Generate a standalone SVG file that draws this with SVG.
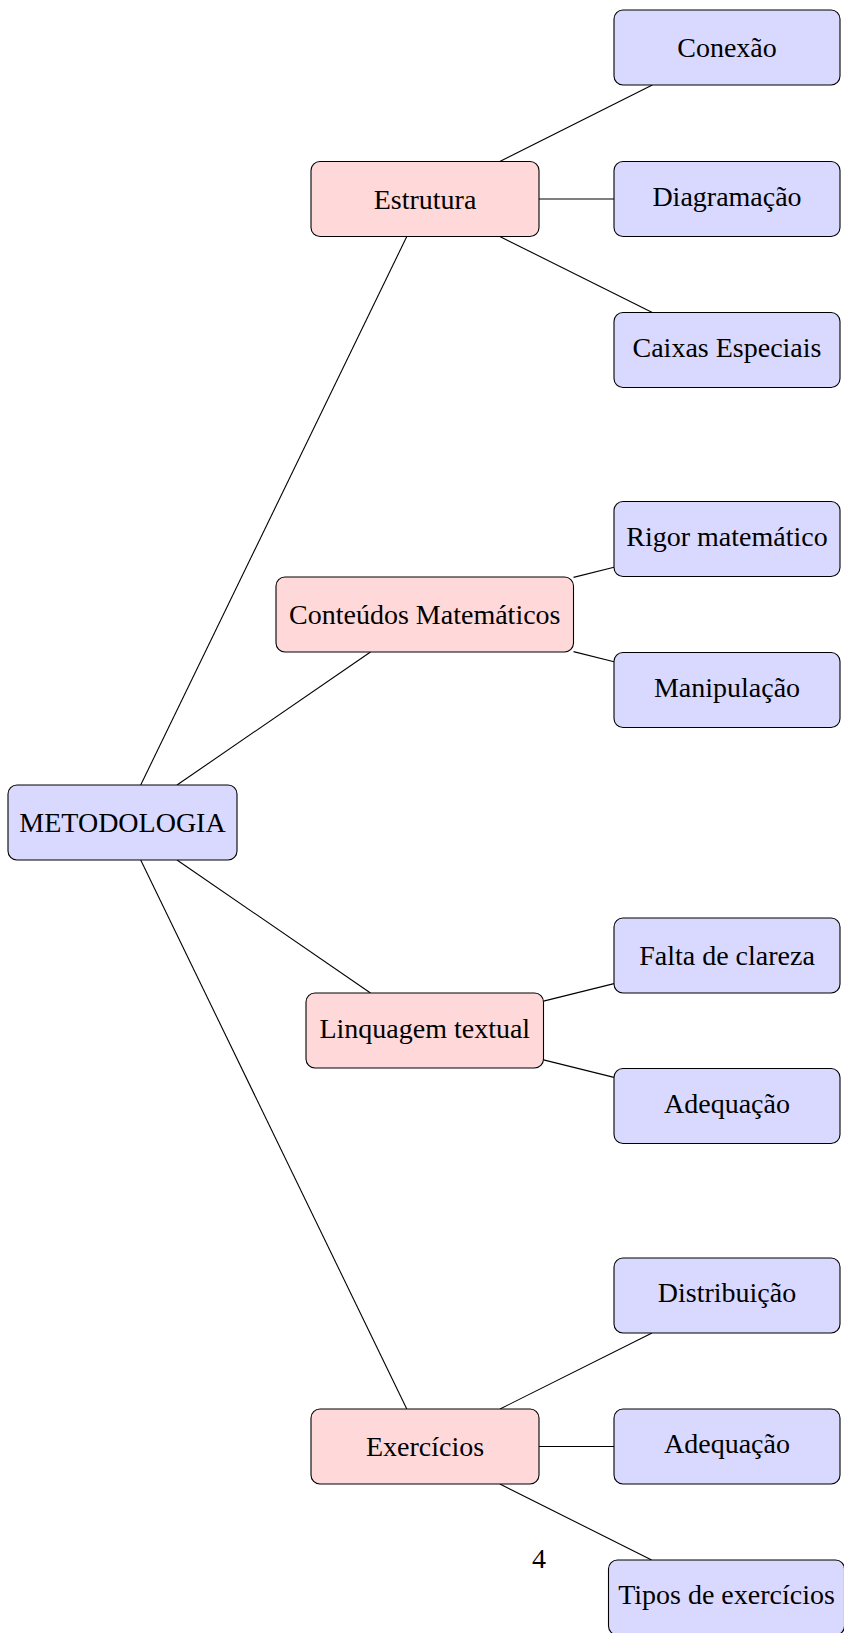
<svg xmlns="http://www.w3.org/2000/svg" width="844" height="1633" viewBox="0 0 844 1633">
<style>
.b{fill:#d9d9ff;stroke:#000;stroke-width:1.1}
.r{fill:#ffd9d9;stroke:#000;stroke-width:1.1}
.t{font-family:"Liberation Serif","Times New Roman",serif;font-size:28px;fill:#000;text-anchor:middle}
.e{stroke:#000;stroke-width:1.1;fill:none}
</style>
<rect width="844" height="1633" fill="#fff"/>
<g id="connectors">
<line class="e" x1="140.7" y1="785" x2="406.8" y2="236.5"/>
<line class="e" x1="177.0" y1="785" x2="370.5" y2="652"/>
<line class="e" x1="177.0" y1="860" x2="370.5" y2="993"/>
<line class="e" x1="140.7" y1="860" x2="406.8" y2="1409"/>
<line class="e" x1="499.8" y1="161.5" x2="652.3" y2="85"/>
<line class="e" x1="539" y1="199" x2="614" y2="199"/>
<line class="e" x1="499.8" y1="236.5" x2="652.3" y2="312.5"/>
<line class="e" x1="573.5" y1="577.4" x2="614" y2="567.3"/>
<line class="e" x1="573.5" y1="651.6" x2="614" y2="661.8"/>
<line class="e" x1="543.5" y1="1001.1" x2="614" y2="983.6"/>
<line class="e" x1="543.5" y1="1059.9" x2="614" y2="1077.4"/>
<line class="e" x1="500" y1="1409" x2="652" y2="1333"/>
<line class="e" x1="539" y1="1446.5" x2="614" y2="1446.5"/>
<line class="e" x1="499.9" y1="1484" x2="651.6" y2="1560"/>
</g>
<g id="metodologia"><rect class="b" x="8" y="785" width="229" height="75" rx="9"/><text class="t" x="122.5" y="832">METODOLOGIA</text></g>
<g id="estrutura"><rect class="r" x="311" y="161.5" width="228" height="75" rx="9"/><text class="t" x="425" y="208.5">Estrutura</text></g>
<g id="conteudos"><rect class="r" x="276" y="577" width="297.5" height="75" rx="9"/><text class="t" x="424.8" y="624">Conteúdos Matemáticos</text></g>
<g id="linquagem"><rect class="r" x="306" y="993" width="237.5" height="75" rx="9"/><text class="t" x="424.8" y="1037.5">Linquagem textual</text></g>
<g id="exercicios"><rect class="r" x="311" y="1409" width="228" height="75" rx="9"/><text class="t" x="425" y="1456">Exercícios</text></g>
<g id="conexao"><rect class="b" x="614" y="10" width="226" height="75" rx="9"/><text class="t" x="727" y="57">Conexão</text></g>
<g id="diagramacao"><rect class="b" x="614" y="161.5" width="226" height="75" rx="9"/><text class="t" x="727" y="205.5">Diagramação</text></g>
<g id="caixas"><rect class="b" x="614" y="312.5" width="226" height="75" rx="9"/><text class="t" x="727" y="357">Caixas Especiais</text></g>
<g id="rigor"><rect class="b" x="614" y="501.5" width="226" height="75" rx="9"/><text class="t" x="727" y="545.5">Rigor matemático</text></g>
<g id="manipulacao"><rect class="b" x="614" y="652.5" width="226" height="75" rx="9"/><text class="t" x="727" y="696.5">Manipulação</text></g>
<g id="falta"><rect class="b" x="614" y="918" width="226" height="75" rx="9"/><text class="t" x="727" y="965">Falta de clareza</text></g>
<g id="adequacao1"><rect class="b" x="614" y="1068.5" width="226" height="75" rx="9"/><text class="t" x="727" y="1112.5">Adequação</text></g>
<g id="distribuicao"><rect class="b" x="614" y="1258" width="226" height="75" rx="9"/><text class="t" x="727" y="1302">Distribuição</text></g>
<g id="adequacao2"><rect class="b" x="614" y="1409" width="226" height="75" rx="9"/><text class="t" x="727" y="1453">Adequação</text></g>
<g id="tipos"><rect class="b" x="608.5" y="1560" width="236" height="75" rx="9"/><text class="t" x="726.5" y="1603.5">Tipos de exercícios</text></g>
<g id="pagenum"><text class="t" x="539" y="1568">4</text></g>
</svg>
